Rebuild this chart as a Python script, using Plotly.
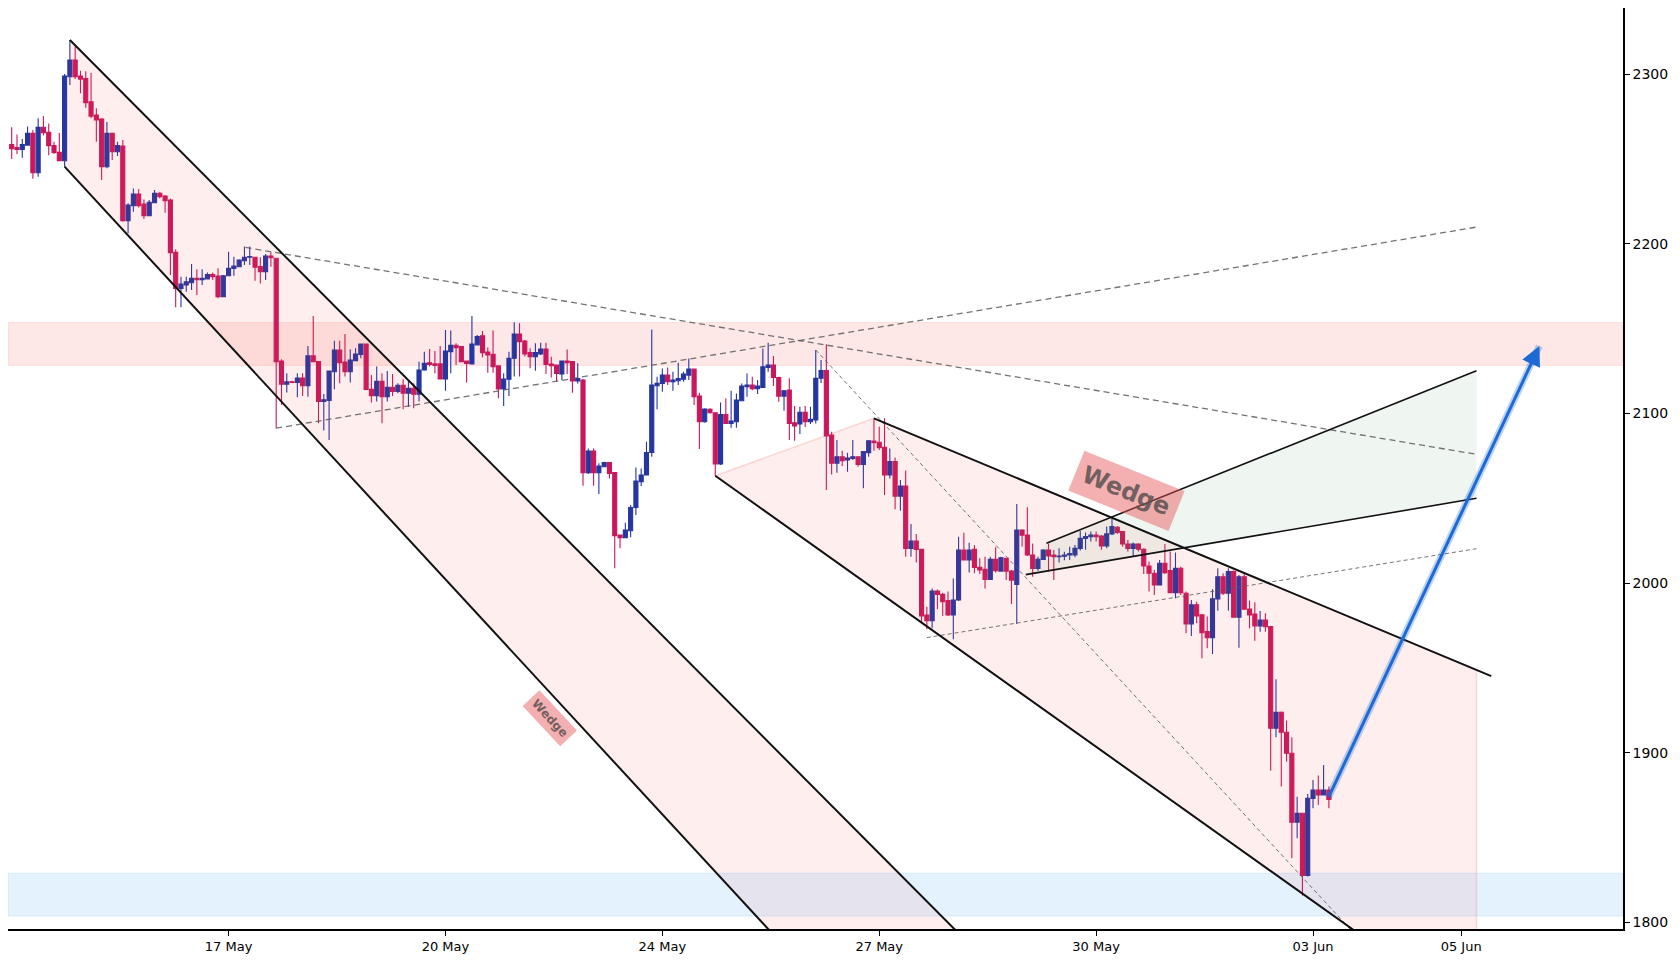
import plotly.graph_objects as go

# ---------------- data (bar index 0..249) ----------------
OPEN = [2258.5,2256.6,2255.6,2258.1,2265.0,2241.8,2268.6,2265.6,2257.8,2253.8,
        2248.9,2298.4,2308.2,2298.8,2297.4,2283.7,2275.8,2273.5,2245.4,2265.0,
        2254.2,2257.6,2213.6,2222.4,2229.3,2223.4,2216.5,2224.2,2229.7,2228.1,
        2225.7,2194.9,2173.7,2175.7,2177.0,2179.6,2178.8,2179.2,2181.9,2181.0,
        2168.8,2181.1,2185.5,2186.4,2190.0,2192.0,2192.0,2186.5,2183.5,2192.8,
        2191.4,2130.9,2117.2,2118.7,2118.3,2120.9,2116.4,2133.9,2130.5,2107.0,
        2107.6,2124.6,2137.4,2130.3,2124.6,2131.1,2134.7,2140.9,2114.2,2110.5,
        2118.9,2109.9,2115.4,2112.9,2116.6,2111.9,2114.8,2111.3,2125.6,2129.9,
        2129.2,2129.2,2120.3,2136.4,2140.2,2139.4,2130.9,2129.2,2140.4,2145.7,
        2136.2,2134.9,2128.0,2114.4,2120.1,2132.5,2146.8,2142.7,2135.8,2133.4,
        2135.0,2137.9,2129.1,2128.5,2123.2,2130.9,2130.5,2119.1,2119.7,2065.1,
        2077.8,2065.1,2068.6,2071.0,2065.1,2028.3,2026.8,2030.9,2044.6,2059.8,
        2063.7,2077.0,2116.3,2117.7,2122.6,2118.7,2119.3,2120.2,2122.6,2126.1,
        2110.2,2095.1,2102.4,2100.4,2070.2,2099.4,2094.1,2095.1,2107.5,2115.7,
        2116.7,2114.6,2115.3,2127.1,2128.5,2121.2,2110.2,2113.8,2094.5,2093.8,
        2100.6,2095.1,2096.1,2120.7,2125.2,2087.3,2070.6,2074.5,2072.6,2073.5,
        2074.5,2070.0,2076.9,2083.7,2083.0,2080.0,2063.7,2071.6,2051.3,2057.2,
        2020.5,2024.8,2019.9,1981.2,1977.9,1995.4,1993.4,1989.7,1981.2,1990.1,
        2019.5,2013.6,2019.9,2009.3,2008.1,2002.2,2014.0,2007.1,2014.6,2007.1,
        1999.3,2031.3,2028.3,2016.6,2008.7,2014.0,2019.5,2016.6,2015.6,2015.8,
        2016.6,2016.6,2020.5,2026.4,2027.4,2028.4,2027.8,2021.9,2029.0,2032.9,
        2030.4,2023.1,2020.5,2023.1,2020.0,2010.1,2005.8,1998.9,2011.7,2007.4,
        1994.4,2008.8,1994.0,1976.0,1987.2,1981.3,1971.4,1967.9,1990.7,2003.8,
        1994.0,2006.8,1979.9,2003.8,1984.8,1981.8,1974.8,1978.3,1974.4,1914.5,
        1923.9,1912.1,1899.8,1859.1,1864.4,1827.7,1873.2,1878.1,1875.2,1878.1]
HIGH = [2268.6,2264.4,2261.7,2269.1,2267.0,2273.9,2275.2,2270.9,2260.1,2265.2,
        2300.0,2320.0,2316.1,2301.9,2301.7,2300.8,2279.8,2273.9,2271.7,2265.4,
        2260.1,2261.1,2223.8,2232.6,2232.2,2226.1,2225.7,2231.6,2230.6,2228.7,
        2226.7,2196.7,2180.6,2180.6,2188.0,2184.9,2184.9,2183.1,2183.1,2185.5,
        2181.5,2195.3,2192.3,2190.8,2198.3,2198.3,2192.0,2192.0,2194.0,2195.0,
        2191.8,2131.9,2123.7,2119.2,2123.7,2123.7,2139.8,2157.4,2130.9,2111.5,
        2125.0,2142.9,2142.9,2146.8,2137.8,2138.4,2140.9,2140.9,2122.7,2127.6,
        2123.7,2125.0,2123.3,2117.8,2120.1,2119.7,2117.8,2130.5,2136.4,2138.0,
        2136.8,2139.8,2149.2,2148.8,2141.3,2139.4,2130.9,2157.4,2146.2,2148.6,
        2138.8,2148.8,2128.0,2123.7,2136.4,2153.7,2153.1,2143.3,2138.4,2141.3,
        2141.7,2141.7,2133.4,2128.5,2130.9,2137.7,2130.5,2129.5,2120.3,2079.4,
        2079.4,2070.6,2071.5,2071.0,2065.1,2028.3,2035.6,2046.0,2068.2,2067.6,
        2083.3,2149.5,2121.6,2126.5,2127.1,2124.6,2129.9,2124.6,2132.4,2126.5,
        2112.2,2103.0,2103.0,2100.4,2106.5,2108.9,2113.4,2111.8,2117.7,2123.6,
        2121.6,2119.7,2138.3,2141.7,2133.8,2121.6,2113.8,2120.7,2104.4,2104.0,
        2104.4,2104.0,2137.4,2131.5,2140.7,2089.2,2084.3,2078.0,2076.9,2084.3,
        2074.5,2077.5,2084.3,2097.1,2092.2,2097.1,2079.4,2074.1,2060.8,2066.3,
        2034.8,2028.9,2019.9,1986.1,1996.9,1996.3,1994.4,1995.0,2002.8,2027.4,
        2029.7,2023.8,2022.5,2014.6,2015.6,2015.6,2021.1,2015.6,2015.0,2007.7,
        2046.6,2031.7,2044.7,2023.4,2015.6,2019.9,2023.4,2019.5,2020.5,2018.5,
        2021.5,2022.5,2030.9,2029.8,2030.4,2030.4,2028.4,2033.3,2038.2,2033.7,
        2030.4,2025.4,2023.9,2023.5,2020.5,2012.7,2007.8,2013.7,2023.1,2018.6,
        2018.0,2009.7,1995.0,1990.1,1989.1,1981.3,1980.3,1996.4,2008.8,2005.8,
        2008.8,2007.4,2004.8,2005.8,1989.7,1988.7,1983.6,1982.2,1974.4,1943.3,
        1924.3,1919.0,1909.2,1874.2,1864.4,1875.8,1884.0,1886.6,1892.9,1880.1]
LOW = [2249.9,2252.8,2250.7,2257.9,2238.3,2239.5,2263.8,2252.2,2252.8,2248.7,
       2245.4,2293.5,2297.0,2288.6,2280.1,2273.9,2260.1,2237.5,2244.4,2249.3,
       2251.7,2213.0,2206.1,2218.9,2221.4,2214.5,2216.3,2224.2,2226.7,2218.3,
       2181.5,2162.5,2162.5,2171.7,2172.7,2169.8,2175.7,2179.0,2178.6,2167.8,
       2168.8,2181.0,2181.1,2186.4,2187.4,2187.4,2178.2,2176.6,2178.6,2186.5,
       2091.3,2105.0,2112.3,2117.8,2109.5,2110.3,2109.9,2130.5,2094.2,2089.9,
       2084.4,2114.2,2117.8,2121.7,2118.2,2131.1,2132.5,2114.2,2106.4,2107.0,
       2094.2,2107.0,2110.3,2111.9,2102.4,2104.0,2103.0,2107.0,2125.2,2127.6,
       2123.7,2120.3,2113.4,2123.7,2128.6,2130.5,2118.2,2129.2,2140.4,2133.1,
       2124.0,2124.0,2108.9,2104.4,2110.3,2121.7,2121.7,2133.5,2126.6,2125.2,
       2134.4,2123.2,2121.2,2118.7,2119.7,2123.2,2112.2,2117.7,2057.4,2064.3,
       2057.4,2052.5,2068.6,2061.7,2008.7,2020.5,2026.8,2027.0,2040.1,2057.2,
       2063.7,2074.5,2102.4,2112.8,2116.7,2113.4,2116.7,2118.7,2119.7,2104.9,
       2079.0,2094.5,2100.0,2063.3,2069.6,2093.7,2091.6,2091.6,2107.5,2109.8,
       2113.6,2111.4,2115.3,2124.6,2116.1,2106.9,2101.6,2084.3,2083.9,2087.9,
       2092.0,2093.7,2094.1,2118.0,2054.9,2064.0,2065.1,2069.0,2065.7,2072.5,
       2068.6,2055.9,2074.5,2078.0,2078.4,2051.9,2061.7,2043.5,2042.7,2015.6,
       2015.6,2012.1,1976.7,1972.8,1973.4,1984.6,1980.6,1980.6,1966.9,1989.5,
       2013.6,2006.2,2005.8,2005.4,1996.9,2001.8,2006.2,2007.1,2001.8,1987.7,
       1975.9,2021.5,2016.0,2003.8,2007.3,2014.0,2006.8,2001.9,2012.1,2013.5,
       2013.7,2015.2,2019.2,2019.6,2024.5,2024.5,2019.6,2020.5,2028.4,2029.0,
       2021.5,2018.6,2016.0,2018.6,2005.4,1995.0,1993.0,1998.9,2005.4,1994.0,
       1991.1,1993.0,1970.5,1968.9,1976.4,1955.7,1961.6,1958.3,1983.8,1993.0,
       1983.8,1979.9,1962.0,1984.6,1973.4,1966.1,1971.4,1971.4,1889.5,1909.2,
       1880.1,1894.8,1837.9,1849.7,1815.9,1827.1,1867.3,1869.3,1875.2,1867.3]
CLOSE = [2256.0,2255.6,2258.5,2265.0,2241.8,2268.6,2265.4,2257.8,2253.8,2248.9,
         2298.8,2308.2,2298.4,2297.0,2283.1,2275.2,2272.9,2245.4,2265.0,2254.2,
         2257.8,2213.6,2222.8,2229.3,2222.4,2216.5,2224.4,2229.7,2227.7,2225.3,
         2194.7,2173.7,2176.2,2177.6,2179.6,2178.8,2179.6,2181.9,2180.6,2168.8,
         2181.1,2185.5,2186.8,2190.4,2192.0,2192.4,2186.1,2183.5,2192.8,2191.8,
         2130.5,2117.2,2118.7,2118.3,2120.9,2116.4,2133.9,2130.5,2107.0,2108.0,
         2125.0,2137.4,2129.9,2124.6,2131.5,2135.0,2140.9,2114.2,2110.5,2118.9,
         2109.9,2115.4,2112.9,2116.6,2111.9,2114.8,2111.3,2125.6,2129.5,2128.8,
         2128.2,2120.3,2136.8,2140.2,2138.8,2130.5,2129.5,2140.9,2145.3,2135.8,
         2134.5,2127.6,2114.4,2120.3,2132.5,2146.8,2142.3,2135.0,2133.5,2135.8,
         2137.9,2128.9,2128.1,2123.6,2130.9,2129.9,2119.1,2120.6,2065.1,2077.8,
         2065.1,2069.0,2071.0,2064.7,2027.9,2026.8,2031.3,2044.6,2060.2,2063.7,
         2077.0,2116.7,2117.7,2122.6,2118.7,2119.7,2120.6,2123.2,2126.1,2109.8,
         2095.1,2102.6,2100.4,2070.2,2099.4,2094.1,2095.5,2107.9,2116.1,2116.7,
         2114.6,2116.1,2127.5,2128.5,2121.2,2110.2,2113.4,2094.1,2092.6,2100.6,
         2095.1,2096.5,2120.7,2125.2,2086.7,2070.6,2074.5,2072.2,2073.7,2074.5,
         2070.0,2077.5,2083.9,2082.8,2079.8,2063.7,2071.6,2051.3,2057.2,2020.5,
         2024.8,2019.9,1980.6,1977.9,1995.4,1993.4,1989.1,1981.2,1990.1,2019.5,
         2013.6,2019.5,2009.3,2007.7,2002.2,2014.0,2007.3,2015.0,2007.1,2001.8,
         2031.3,2028.3,2016.6,2008.7,2014.0,2019.5,2016.0,2015.6,2016.0,2016.6,
         2017.5,2020.5,2026.4,2027.4,2028.4,2027.4,2021.9,2029.0,2033.3,2029.8,
         2023.1,2020.5,2023.1,2020.0,2010.1,2005.8,1998.9,2011.7,2006.2,1994.4,
         2008.8,1994.4,1976.0,1987.2,1980.7,1970.8,1967.9,1990.7,2003.8,1994.0,
         2006.8,1979.9,2003.8,1984.6,1981.3,1974.8,1978.3,1974.4,1914.5,1923.9,
         1912.1,1899.8,1859.1,1864.4,1827.7,1873.2,1878.1,1875.2,1878.1,1872.6]
BARS = list(range(len(CLOSE)))

TICK_BARS = [41, 82, 123, 164, 205, 246, 274]
TICK_TEXT = ["17 May", "20 May", "24 May", "27 May", "30 May", "03 Jun", "05 Jun"]
Y_TICKS = [1800, 1900, 2000, 2100, 2200, 2300]

# zones (price ranges)
RESIST_ZONE = [2128.3, 2153.6]
SUPPORT_ZONE = [1803.8, 1829.1]

# pattern lines: (bar, price) anchor pairs
WEDGE1_UPPER = [(11, 2320.0), (178.2, 1796.2)]
WEDGE1_LOWER = [(10, 2245.4), (143.0, 1796.2)]
WEDGE2_UPPER = [(163, 2097.1), (279.7, 1945.2)]
WEDGE2_LOWER = [(133, 2063.3), (253.4, 1796.2)]
RISE_UPPER = [(195.6, 2023.5), (276.9, 2125.2)]
RISE_LOWER = [(191.7, 2005.0), (276.9, 2050.0)]
DASH_A = [(44.2, 2197.8), (276.9, 2075.9)]
DASH_B = [(50.0, 2091.3), (276.9, 2209.8)]
DASH_C = [(152, 2137.4), (253.0, 1796.2)]
DASH_D = [(173, 1967.9), (276.9, 2020.3)]
PROJ_END_BAR = 276.9
ARROW = [(248.9, 1873.5), (288.8, 2139.7)]
LABEL_BIG = (210.8, 2054.4)
LABEL_SMALL = (101.7, 1920.6)

Y_MIN, Y_MAX = 1796.2, 2338.9
X_MIN, X_MAX = -0.70, 304.6


def at(line, xb):
    (x0, y0), (x1, y1) = line
    return y0 + (y1 - y0) * (xb - x0) / (x1 - x0)


def bar_at_price(line, p):
    (x0, y0), (x1, y1) = line
    return x0 + (p - y0) * (x1 - x0) / (y1 - y0)


fig = go.Figure()

PINK_FILL = "rgba(244,67,54,0.085)"
PINK_EDGE = "rgba(244,67,54,0.18)"

lowp = 1700
w1 = [WEDGE1_LOWER[0], WEDGE1_UPPER[0],
      (bar_at_price(WEDGE1_UPPER, lowp), lowp),
      (bar_at_price(WEDGE1_LOWER, lowp), lowp)]
fig.add_trace(go.Scatter(x=[p[0] for p in w1] + [w1[0][0]], y=[p[1] for p in w1] + [w1[0][1]],
                         fill="toself", fillcolor=PINK_FILL, mode="lines",
                         line=dict(color="rgba(0,0,0,0)", width=0), hoverinfo="skip"))
w2 = [WEDGE2_LOWER[0], WEDGE2_UPPER[0],
      (PROJ_END_BAR, at(WEDGE2_UPPER, PROJ_END_BAR)),
      (PROJ_END_BAR, at(WEDGE2_LOWER, PROJ_END_BAR))]
fig.add_trace(go.Scatter(x=[p[0] for p in w2] + [w2[0][0]], y=[p[1] for p in w2] + [w2[0][1]],
                         fill="toself", fillcolor=PINK_FILL, mode="lines",
                         line=dict(color=PINK_EDGE, width=1.5), hoverinfo="skip"))
w3 = [RISE_LOWER[0], RISE_UPPER[0], RISE_UPPER[1], RISE_LOWER[1]]
fig.add_trace(go.Scatter(x=[p[0] for p in w3] + [w3[0][0]], y=[p[1] for p in w3] + [w3[0][1]],
                         fill="toself", fillcolor="rgba(46,139,87,0.08)", mode="lines",
                         line=dict(color="rgba(0,0,0,0)", width=0), hoverinfo="skip"))

fig.add_trace(go.Candlestick(
    x=BARS, open=OPEN, high=HIGH, low=LOW, close=CLOSE,
    increasing=dict(line=dict(color="#2536a0", width=1.1), fillcolor="#2536a0"),
    decreasing=dict(line=dict(color="#c9175c", width=1.1), fillcolor="#c9175c"),
    whiskerwidth=0, hoverinfo="skip", showlegend=False))


def seg(line, x_end=None, dash=None, color="#111111", width=2.0):
    (x0, y0), (x1, y1) = line
    if x_end is not None:
        x1, y1 = x_end, at(line, x_end)
    fig.add_trace(go.Scatter(x=[x0, x1], y=[y0, y1], mode="lines",
                             line=dict(color=color, width=width, dash=dash),
                             hoverinfo="skip", showlegend=False))


DASHC = "rgba(90,90,90,0.85)"
seg(DASH_A, dash="6px,4px", color=DASHC, width=1.3)
seg(DASH_B, dash="6px,4px", color=DASHC, width=1.3)
seg(DASH_C, x_end=bar_at_price(DASH_C, lowp), dash="4px,3px", color=DASHC, width=1.0)
seg(DASH_D, dash="4px,3px", color=DASHC, width=1.0)

seg(WEDGE1_UPPER, x_end=bar_at_price(WEDGE1_UPPER, lowp))
seg(WEDGE1_LOWER, x_end=bar_at_price(WEDGE1_LOWER, lowp))
seg(WEDGE2_UPPER)
seg(WEDGE2_LOWER, x_end=bar_at_price(WEDGE2_LOWER, lowp))
seg(RISE_UPPER, width=1.6)
seg(RISE_LOWER, width=1.6)

fig.add_trace(go.Scatter(x=[ARROW[0][0], ARROW[1][0]], y=[ARROW[0][1], ARROW[1][1]], mode="lines",
                         line=dict(color="rgba(30,110,215,0.3)", width=7),
                         hoverinfo="skip", showlegend=False))

shapes = [
    dict(type="rect", xref="paper", x0=0, x1=1, yref="y", y0=RESIST_ZONE[0], y1=RESIST_ZONE[1],
         fillcolor="rgba(244,67,54,0.12)", line=dict(color="rgba(244,67,54,0.12)", width=1), layer="below"),
    dict(type="rect", xref="paper", x0=0, x1=1, yref="y", y0=SUPPORT_ZONE[0], y1=SUPPORT_ZONE[1],
         fillcolor="rgba(33,150,243,0.12)", line=dict(color="rgba(33,150,243,0.12)", width=1), layer="below"),
]

annotations = [
    dict(x=ARROW[1][0], y=ARROW[1][1], ax=ARROW[0][0], ay=ARROW[0][1], xref="x", yref="y",
         axref="x", ayref="y", showarrow=True, arrowhead=2, arrowsize=1.3, arrowwidth=3,
         arrowcolor="#1d6ad6", standoff=0, text=""),
    dict(x=LABEL_BIG[0], y=LABEL_BIG[1], xref="x", yref="y", text="<b>Wedge</b>", showarrow=False,
         textangle=22, font=dict(family="DejaVu Sans", size=24, color="rgba(90,80,80,0.85)"),
         bgcolor="rgba(232,90,90,0.48)", borderpad=7),
    dict(x=LABEL_SMALL[0], y=LABEL_SMALL[1], xref="x", yref="y", text="<b>Wedge</b>", showarrow=False,
         textangle=47, font=dict(family="DejaVu Sans", size=12, color="rgba(90,80,80,0.85)"),
         bgcolor="rgba(232,90,90,0.48)", borderpad=4),
]

# page body has an 8px margin, so the figure starts at (8, 8) in the window
fig.update_layout(
    width=1672, height=952,
    margin=dict(l=0, r=57, t=0, b=31, autoexpand=False),
    paper_bgcolor="white", plot_bgcolor="white",
    showlegend=False,
    boxgap=0.15, boxgroupgap=0.1,
    shapes=shapes, annotations=annotations,
    font=dict(family="DejaVu Sans", color="black"),
    xaxis=dict(range=[X_MIN, X_MAX], rangeslider=dict(visible=False), showgrid=False, zeroline=False,
               showline=True, linecolor="black", linewidth=1.5, ticks="outside", ticklen=5,
               tickcolor="black", tickvals=TICK_BARS, ticktext=TICK_TEXT, tickfont=dict(size=13)),
    yaxis=dict(range=[Y_MIN, Y_MAX], side="right", showgrid=False, zeroline=False,
               showline=True, linecolor="black", linewidth=1.5, ticks="outside", ticklen=5,
               tickcolor="black", tickvals=Y_TICKS, tickfont=dict(size=14)),
)

fig.write_html("out.html")
